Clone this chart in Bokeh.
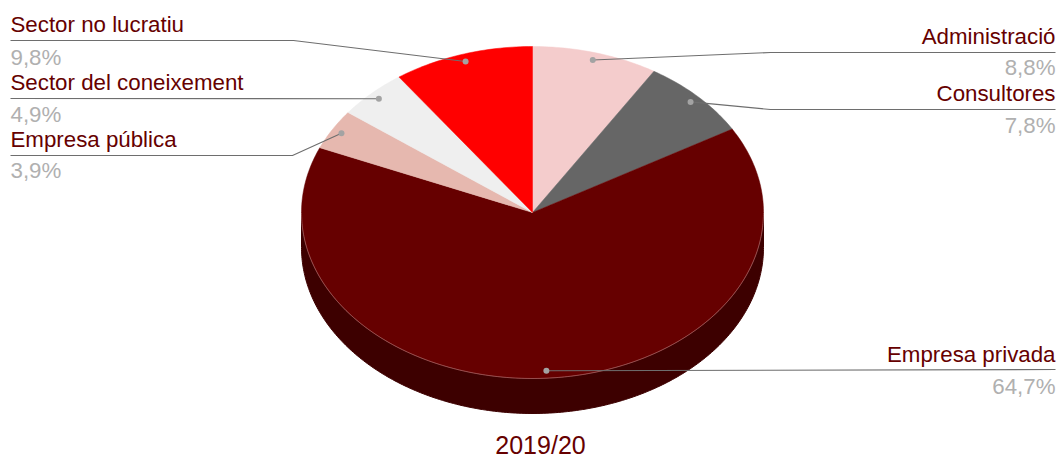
import numpy as np
from bokeh.plotting import figure
from bokeh.models import Range1d
from bokeh.core.properties import value
from bokeh.embed import file_html
from bokeh.resources import INLINE

# ---- data (clockwise from 12 o'clock)
categories = ["Administració", "Consultores", "Empresa privada", "Empresa pública",
              "Sector del coneixement", "Sector no lucratiu"]
shares = [8.8, 7.8, 64.7, 3.9, 4.9, 9.8]
share_labels = ["8,8%", "7,8%", "64,7%", "3,9%", "4,9%", "9,8%"]
title_text = "2019/20"

# ---- styles
slice_colors = ["#f4cccc", "#666666", "#660000", "#e6b8af", "#efefef", "#ff0000"]
side_color = "#3d0000"
label_color = "#660000"
share_color = "#b0b0b0"
line_color = "#6e6e6e"
dot_color = "#a3a3a3"
FONT = "Liberation Sans"

# ---- layout (page pixels)
W, H = 1060, 460
CX, CY, RX, RY, DEPTH = 532, 212, 231, 166, 35
DOT_R = 0.955
TEXT_SHIFT = -7
label_side = ["right", "right", "right", "left", "left", "left"]
label_base = [43, 100, 361, 146, 89, 31]
share_base = [74, 132, 393, 177, 121, 64]
rule_y = [52, 109, 369, 155, 98, 40]
elbow_x = [770, 770, None, 292, None, 293]
LEFT_X, RIGHT_X = 10, 1055

p = figure(width=W, height=H, output_backend="svg", toolbar_location=None,
           x_range=Range1d(0, W), y_range=Range1d(H, 0),
           min_border=0, outline_line_color=None, background_fill_color="white",
           border_fill_color="white")
p.xaxis.visible = False
p.yaxis.visible = False
p.grid.visible = False


def ell(theta, dy=0.0, r=1.0):
    return CX + RX * r * np.sin(theta), CY + dy - RY * r * np.cos(theta)


# side wall of the pie
t = np.linspace(np.pi / 2, 3 * np.pi / 2, 240)
x_top, y_top = ell(t)
x_bot, y_bot = ell(t, DEPTH)
p.patch(np.r_[x_top, x_bot[::-1]], np.r_[y_top, y_bot[::-1]],
        fill_color=side_color, line_color=side_color, line_width=1)

# top face slices
edges = np.r_[0, np.cumsum(shares)] / sum(shares) * 2 * np.pi
mids = (edges[:-1] + edges[1:]) / 2
for a0, a1, c in zip(edges[:-1], edges[1:], slice_colors):
    t = np.linspace(a0, a1, max(8, int((a1 - a0) * 60)))
    x, y = ell(t)
    p.patch(np.r_[CX, x], np.r_[CY, y], fill_color=c, line_color=c, line_width=0.5)

# pale rim along the front of the top face
t = np.linspace(np.pi / 2, 3 * np.pi / 2, 240)
x, y = ell(t)
p.line(x, y, line_color="#d9a6a6", line_width=0.6, line_alpha=0.8)

# leaders, labels
for i, m in enumerate(mids):
    dx, dy = ell(m, r=DOT_R)
    outer = RIGHT_X if label_side[i] == "right" else LEFT_X
    xs = [outer] + ([elbow_x[i]] if elbow_x[i] else []) + [float(dx)]
    ys = [rule_y[i]] + ([rule_y[i]] if elbow_x[i] else []) + [float(dy)]
    p.line(xs, ys, line_color=line_color, line_width=1.1)
    p.scatter([float(dx)], [float(dy)], size=6, fill_color=dot_color, line_color=None)
    p.text([outer], [label_base[i] + TEXT_SHIFT], text=[categories[i]], text_color=label_color,
           text_font=value(FONT), text_font_size="22.3px", text_baseline="alphabetic",
           text_align=label_side[i])
    p.text([outer], [share_base[i] + TEXT_SHIFT], text=[share_labels[i]], text_color=share_color,
           text_font=value(FONT), text_font_size="22.3px", text_baseline="alphabetic",
           text_align=label_side[i])

p.text([540], [444], text=[title_text], text_color=label_color, text_font=value(FONT),
       text_font_size="25px", text_baseline="alphabetic", text_align="center")

open("out.html", "w").write(file_html(p, INLINE))
